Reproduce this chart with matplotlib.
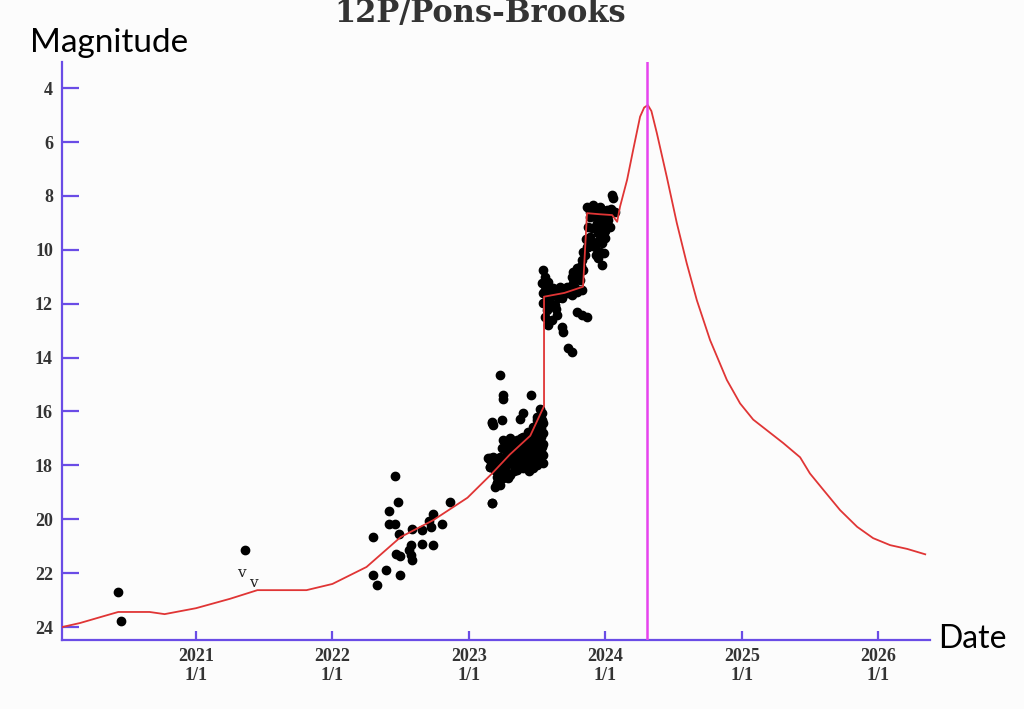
import matplotlib
matplotlib.use("Agg")
import matplotlib.pyplot as plt

# predicted light curve (decimal year, magnitude); repeated x values are the jumps
curve_t = [2020.018, 2020.15, 2020.32, 2020.43, 2020.66, 2020.77, 2021.0, 2021.25,
           2021.45, 2021.81, 2022.0, 2022.25, 2022.50, 2022.74, 2022.99, 2023.17,
           2023.30, 2023.45, 2023.551, 2023.551, 2023.70, 2023.837, 2023.866, 2023.96,
           2024.05, 2024.087, 2024.108, 2024.16, 2024.204, 2024.255, 2024.285, 2024.312,
           2024.338, 2024.378,
           2024.451, 2024.524, 2024.597, 2024.671, 2024.768, 2024.891, 2024.988, 2025.084,
           2025.304, 2025.428, 2025.50, 2025.597, 2025.721, 2025.846, 2025.963, 2026.088,
           2026.213, 2026.345]
curve_m = [24.0, 23.85, 23.6, 23.44, 23.44, 23.52, 23.3, 22.95,
           22.63, 22.63, 22.4, 21.77, 20.66, 20.03, 19.2, 18.3,
           17.6, 16.9, 15.8, 11.74, 11.6, 11.37, 8.64, 8.68,
           8.71, 8.96, 8.4, 7.4, 6.3, 5.06, 4.72, 4.63,
           4.85, 5.67,
           7.3, 9.0, 10.5, 11.87, 13.35, 14.83, 15.7, 16.3,
           17.17, 17.7, 18.3, 18.9, 19.66, 20.28, 20.7, 20.96,
           21.1, 21.3]

# observations (decimal year, magnitude)
obs_t = [2020.43, 2020.45, 2021.36,
         2022.459, 2022.483, 2022.417, 2022.862, 2022.417, 2022.459, 2022.735, 2022.71,
         2022.723, 2022.80, 2022.58, 2022.66, 2022.30, 2022.49, 2022.66, 2022.735,
         2022.574, 2022.564, 2022.466, 2022.496, 2022.574, 2022.58, 2022.393, 2022.30,
         2022.496, 2022.33,
         2023.155, 2023.155, 2023.19, 2023.205, 2023.167, 2023.167,
         2023.156, 2023.192, 2023.156, 2023.205, 2023.253, 2023.302, 2023.351, 2023.40,
         2023.449, 2023.498, 2023.534, 2023.547, 2023.547, 2023.547, 2023.534, 2023.522,
         2023.498, 2023.473, 2023.437, 2023.40, 2023.351, 2023.302, 2023.253, 2023.241,
         2023.278, 2023.327, 2023.376, 2023.424, 2023.473, 2023.51, 2023.51, 2023.461,
         2023.412, 2023.363, 2023.314, 2023.265, 2023.217, 2023.18, 2023.229, 2023.461,
         2023.498, 2023.522, 2023.437, 2023.40, 2023.29, 2023.339, 2023.388, 2023.437,
         2023.486, 2023.522, 2023.534,
         2023.30, 2023.32, 2023.34, 2023.36, 2023.38, 2023.39, 2023.41, 2023.42,
         2023.43, 2023.44, 2023.45, 2023.46, 2023.47, 2023.48, 2023.49, 2023.50,
         2023.51, 2023.52, 2023.53, 2023.54, 2023.535, 2023.545, 2023.52, 2023.50,
         2023.47, 2023.44, 2023.42, 2023.37, 2023.33, 2023.28, 2023.26, 2023.24,
         2023.22, 2023.27, 2023.31, 2023.35, 2023.40, 2023.45, 2023.48, 2023.50,
         2023.53, 2023.49, 2023.43,
         2023.168, 2023.241, 2023.18, 2023.376, 2023.40, 2023.253, 2023.253, 2023.456,
         2023.229, 2023.229, 2023.205, 2023.29, 2023.192, 2023.168, 2023.143,
         2023.546, 2023.559, 2023.534, 2023.571, 2023.546, 2023.595, 2023.632, 2023.669,
         2023.583, 2023.546, 2023.632, 2023.571, 2023.559, 2023.607, 2023.583, 2023.644,
         2023.681, 2023.693, 2023.791, 2023.828, 2023.864, 2023.73, 2023.754,
         2023.717, 2023.766, 2023.815, 2023.754, 2023.791, 2023.828, 2023.84, 2023.864,
         2023.766, 2023.803, 2023.705, 2023.754, 2023.791, 2023.828, 2023.669, 2023.84,
         2023.56, 2023.58, 2023.60, 2023.62, 2023.65, 2023.60, 2023.57, 2023.64,
         2023.68, 2023.72, 2023.74, 2023.78, 2023.80, 2023.82, 2023.85, 2023.86,
         2023.864, 2023.913, 2023.962, 2024.011, 2024.047, 2024.06, 2023.889, 2023.876,
         2023.889, 2023.937, 2023.974, 2023.998, 2024.035, 2023.986, 2023.95, 2023.998,
         2023.974, 2023.925, 2023.962, 2023.95, 2023.974, 2023.913, 2023.876, 2024.035,
         2024.072, 2023.889,
         2023.90, 2023.92, 2023.94, 2023.96, 2024.00, 2024.02, 2024.04, 2023.97,
         2023.99, 2023.93, 2023.96]
obs_m = [22.7, 23.78, 21.14,
         18.40, 19.35, 19.68, 19.35, 20.19, 20.19, 19.81, 20.06,
         20.27, 20.19, 20.37, 20.40, 20.65, 20.56, 20.92, 20.97,
         20.97, 21.14, 21.29, 21.37, 21.33, 21.51, 21.88, 22.05,
         22.05, 22.44,
         17.74, 18.05, 18.17, 18.67, 19.41, 16.42,
         17.80, 18.17, 18.05, 18.42, 18.48, 18.36, 18.17, 18.11,
         18.05, 17.80, 17.56, 17.19, 16.81, 16.44, 16.07, 15.89,
         16.20, 16.57, 16.75, 16.94, 17.06, 17.00, 17.06, 17.37,
         17.56, 17.68, 17.56, 17.43, 17.25, 17.06, 16.69, 16.94,
         17.31, 17.80, 17.93, 18.05, 17.93, 17.68, 17.68, 17.68,
         17.43, 17.80, 17.80, 17.87, 17.25, 17.37, 17.19, 17.06,
         16.75, 16.32, 17.31,
         17.4, 17.2, 17.5, 17.3, 17.0, 17.7, 17.5, 17.1,
         16.9, 17.6, 17.3, 17.9, 16.8, 17.5, 17.1, 16.5,
         17.4, 16.9, 16.6, 17.9, 16.3, 17.6, 17.65, 18.0,
         18.1, 18.2, 18.0, 18.0, 18.2, 18.3, 17.8, 18.0,
         18.2, 17.3, 17.8, 17.9, 17.4, 16.95, 16.7, 16.3,
         16.95, 17.7, 17.8,
         16.38, 16.32, 16.51, 16.26, 16.07, 15.39, 15.52, 15.37,
         14.65, 18.73, 18.67, 18.48, 18.79, 19.41, 17.74,
         10.75, 11.00, 11.25, 11.37, 11.62, 11.50, 11.62, 11.56,
         11.87, 11.99, 12.05, 12.24, 12.49, 12.61, 12.79, 12.42,
         12.86, 13.04, 12.30, 12.42, 12.49, 13.66, 13.78,
         11.37, 11.25, 11.12, 11.00, 10.69, 10.38, 10.07, 9.89,
         10.82, 11.00, 11.56, 11.68, 11.56, 11.50, 11.37, 10.75,
         11.5, 11.2, 11.7, 11.4, 11.8, 12.0, 11.8, 12.2,
         11.8, 11.6, 11.5, 11.4, 10.9, 10.6, 10.2, 9.6,
         8.40, 8.34, 8.40, 8.53, 7.97, 8.09, 8.77, 9.15,
         9.52, 9.02, 8.77, 8.96, 9.15, 9.27, 9.39, 9.58,
         9.76, 9.89, 10.07, 10.32, 10.57, 9.70, 9.89, 8.65,
         8.59, 8.59,
         9.2, 8.6, 8.8, 9.2, 9.3, 8.9, 8.5, 8.5,
         10.1, 10.2, 9.6]

# upper limits, drawn as "v"
lim_t = [2021.33, 2021.42]
lim_m = [22.0, 22.37]

perihelion = 2024.305
years = [2021, 2022, 2023, 2024, 2025, 2026]
year_labels = [f"{y}\n1/1" for y in years]
mag_ticks = [4, 6, 8, 10, 12, 14, 16, 18, 20, 22, 24]

axis_blue = "#6a4ce6"

fig = plt.figure(figsize=(10.24, 7.09), dpi=100, facecolor="#fcfcfc")
ax = fig.add_axes([62 / 1024, 1 - 640 / 709, (930 - 62) / 1024, (640 - 62) / 709])
ax.set_facecolor("#fcfcfc")

ax.plot(obs_t, obs_m, "o", color="black", markersize=6, zorder=2)
ax.plot(curve_t, curve_m, color="#e03535", lw=1.3, zorder=3)
ax.axvline(perihelion, color="#e644ee", lw=1.8, zorder=4)
for t, m in zip(lim_t, lim_m):
    ax.text(t, m, "v", ha="center", va="center", fontsize=11,
            family="DejaVu Serif", color="#222222")

ax.set_xlim(2020.018, 2026.38)
ax.set_ylim(24.48, 3.03)

for s in ["top", "right"]:
    ax.spines[s].set_visible(False)
for s in ["left", "bottom"]:
    ax.spines[s].set_color(axis_blue)
    ax.spines[s].set_linewidth(1.6)

ax.set_yticks(mag_ticks)
ax.set_yticklabels([str(m) for m in mag_ticks])
ax.set_xticks(years)
ax.set_xticklabels(year_labels, linespacing=1.15)
ax.tick_params(axis="y", direction="in", length=12, width=1.6, color=axis_blue, pad=6.5)
ax.tick_params(axis="x", direction="in", length=6.5, width=1.6, color=axis_blue, pad=6)
for lab in ax.get_xticklabels() + ax.get_yticklabels():
    lab.set_family("Liberation Serif")
    lab.set_fontweight("bold")
    lab.set_fontsize(13)
    lab.set_color("#333333")

fig.text(480 / 1024, 1 - 22 / 709, "12P/Pons-Brooks", ha="center", va="baseline",
         family="DejaVu Serif", fontweight="bold", fontsize=22, color="#333333")
fig.text(30 / 1024, 1 - 52 / 709, "Magnitude", ha="left", va="baseline",
         family="Lato", fontsize=24, color="black")
fig.text(938 / 1024, 1 - 648 / 709, "Date", ha="left", va="baseline",
         family="Lato", fontsize=23, color="black")

fig.savefig("out.png", dpi=100, facecolor=fig.get_facecolor())
